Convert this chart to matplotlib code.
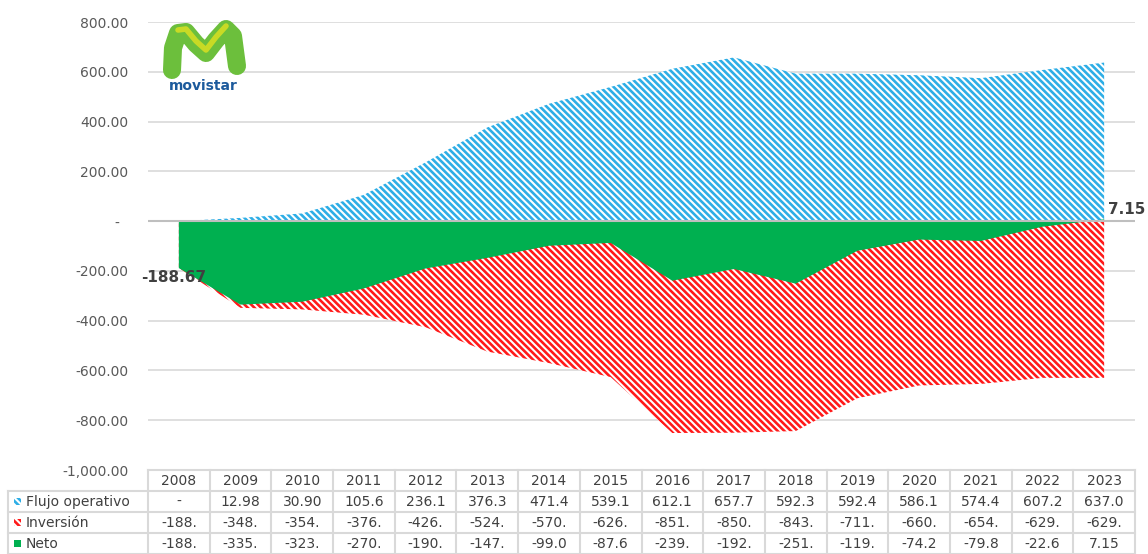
import matplotlib.pyplot as plt
import matplotlib.patches as mpatches
import numpy as np

# --- data ---
years = ['2008', '2009', '2010', '2011', '2012', '2013', '2014', '2015',
         '2016', '2017', '2018', '2019', '2020', '2021', '2022', '2023']
flujo = [0, 12.98, 30.90, 105.6, 236.1, 376.3, 471.4, 539.1,
         612.1, 657.7, 592.3, 592.4, 586.1, 574.4, 607.2, 637.0]
inversion = [-188.67, -348.5, -354.8, -376.2, -426.4, -524.1, -570.4, -626.7,
             -851.4, -850.2, -843.6, -711.5, -660.3, -654.2, -629.8, -629.85]
neto = [-188.67, -335.5, -323.9, -270.6, -190.3, -147.8, -99.0, -87.6,
        -239.3, -192.5, -251.3, -119.1, -74.2, -79.8, -22.6, 7.15]

# table text as shown (truncated cells)
flujo_txt = ['-', '12.98', '30.90', '105.6', '236.1', '376.3', '471.4', '539.1',
             '612.1', '657.7', '592.3', '592.4', '586.1', '574.4', '607.2', '637.0']
inversion_txt = ['-188.', '-348.', '-354.', '-376.', '-426.', '-524.', '-570.', '-626.',
                 '-851.', '-850.', '-843.', '-711.', '-660.', '-654.', '-629.', '-629.']
neto_txt = ['-188.', '-335.', '-323.', '-270.', '-190.', '-147.', '-99.0', '-87.6',
            '-239.', '-192.', '-251.', '-119.', '-74.2', '-79.8', '-22.6', '7.15']
series_names = ['Flujo operativo', 'Inversión', 'Neto']

blue = '#2eaee6'
red = '#ff1a1a'
green = '#00b050'
txt_col = '#404040'
grid_col = '#d9d9d9'
hatch = '\\' * 5

plt.rcParams['font.family'] = ['DejaVu Sans']
plt.rcParams['hatch.linewidth'] = 1.9

W, H = 1148, 554
fig = plt.figure(figsize=(W / 100, H / 100), dpi=100)
x_left, x_right, y_top, y_bot = 148, 1135, 22, 470
ax = fig.add_axes([x_left / W, (H - y_bot) / H, (x_right - x_left) / W, (y_bot - y_top) / H])

x = np.arange(len(years))
ax.fill_between(x, 0, flujo, facecolor='white', edgecolor=blue, hatch=hatch, linewidth=0, zorder=2)
ax.fill_between(x, 0, inversion, facecolor='white', edgecolor=red, hatch=hatch, linewidth=0, zorder=3)
ax.fill_between(x, 0, neto, facecolor=green, linewidth=0, zorder=4)
ax.axhline(0, color='#bfbfbf', lw=1.5, zorder=5)

ax.set_xlim(-0.5, len(years) - 0.5)
ax.set_ylim(-1000, 800)
yt = np.arange(-1000, 801, 200)
ax.set_yticks(yt)
ax.set_yticklabels(['-  ' if v == 0 else f'{v:,.2f}' for v in yt], fontsize=10, color='#595959')
ax.set_xticks([])
ax.tick_params(axis='y', length=0, pad=14)
ax.grid(axis='y', color=grid_col, lw=1.2, zorder=0)
for s in ax.spines.values():
    s.set_visible(False)

# data labels for first and last neto points
ax.annotate(f'{neto[0]:.2f}', (x[0], neto[0]), xytext=(-5, -9), textcoords='offset pixels',
            ha='center', va='center', fontsize=11, fontweight='bold', color=txt_col, zorder=6)
ax.annotate(f'{neto[-1]:.2f}', (x[-1], neto[-1]), xytext=(4, 10), textcoords='offset pixels',
            ha='left', va='center', fontsize=11, fontweight='bold', color=txt_col, zorder=6)

# --- data table below the plot ---
tab = fig.add_axes([0, 0, 1, 1])
tab.set_xlim(0, W)
tab.set_ylim(H, 0)
tab.axis('off')
cw = (x_right - x_left) / len(years)
row_edges = [470, 491, 512, 533, 554]
lab_left = 8
for i, yy in enumerate(row_edges):
    tab.plot([x_left if i == 0 else lab_left, x_right], [yy, yy], color=grid_col, lw=1.5)
for j in range(len(years) + 1):
    tab.plot([x_left + j * cw] * 2, [470, 554], color=grid_col, lw=1.5)
tab.plot([lab_left, lab_left], [491, 554], color=grid_col, lw=1.5)

cells = [years, flujo_txt, inversion_txt, neto_txt]
for r, row in enumerate(cells):
    yc = (row_edges[r] + row_edges[r + 1]) / 2
    for j, t in enumerate(row):
        tab.text(x_left + (j + 0.5) * cw, yc + 0.5, t, ha='center', va='center', fontsize=10, color=txt_col)

for r, name in enumerate(series_names):
    yc = (row_edges[r + 1] + row_edges[r + 2]) / 2
    if r == 2:
        sq = mpatches.Rectangle((14, yc - 3.5), 7, 7, facecolor=green, linewidth=0)
    else:
        sq = mpatches.Rectangle((14, yc - 3.5), 7, 7, facecolor='white',
                                edgecolor=blue if r == 0 else red, hatch=hatch, linewidth=0)
    tab.add_patch(sq)
    tab.text(26, yc + 0.5, name, ha='left', va='center', fontsize=10, color=txt_col)

# --- rough movistar logo ---
mx = [172, 173, 178, 186, 196, 206, 216, 226, 233, 237]
my = [70, 48, 33, 32, 44, 53, 40, 29, 36, 66]
tab.plot(mx, my, color='#6cbf3c', lw=13, solid_capstyle='round', solid_joinstyle='round')
tab.plot(mx[2:-2], [v - 3 for v in my[2:-2]], color='#d9e021', lw=4, solid_capstyle='round', alpha=0.85)
tab.text(203, 86, 'movistar', ha='center', va='center', fontsize=10, fontweight='bold', color='#1c5a9c')

fig.savefig('out.png', dpi=100)
